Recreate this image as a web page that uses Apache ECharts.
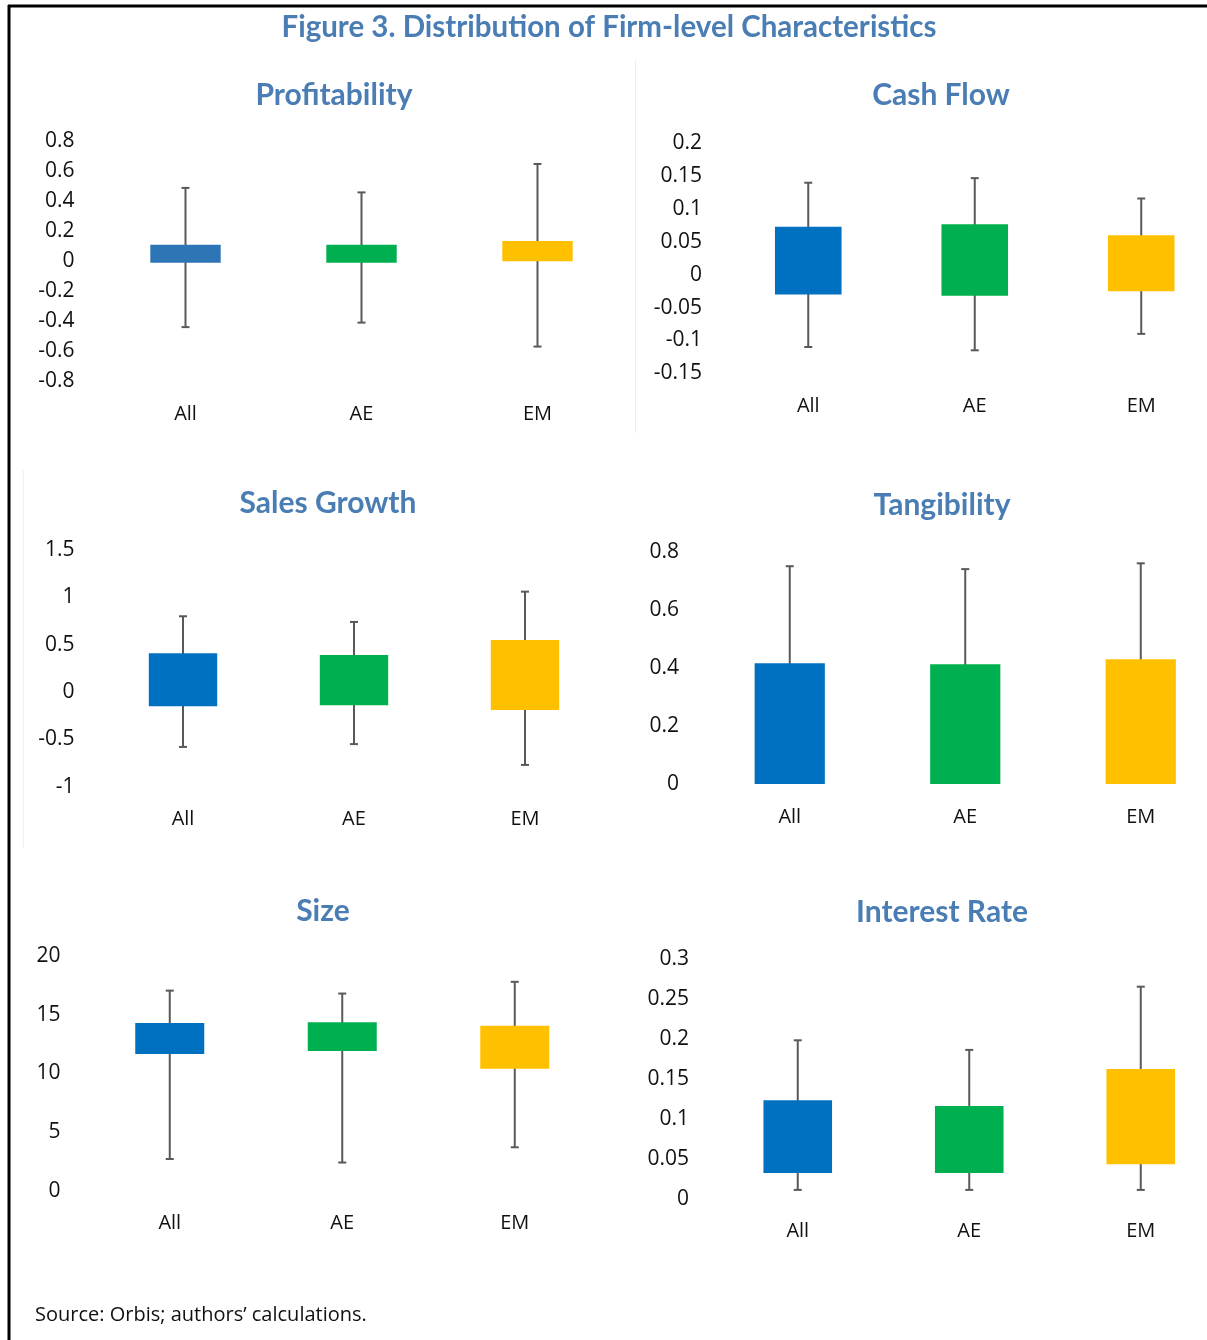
<!DOCTYPE html>
<html>
<head>
<meta charset="utf-8">
<script src="https://cdn.jsdelivr.net/npm/echarts@6/dist/echarts.min.js"></script>
<style>
  html, body { margin: 0; padding: 0; background: #ffffff; }
  #chart { width: 1207px; height: 1340px; }
</style>
</head>
<body>
<div id="chart"></div>
<script>
// Groups shown in every panel
const categories = ['All', 'AE', 'EM'];

// Profitability: whisker low, box bottom, box top, whisker high
const profitLow  = [-0.44, -0.41, -0.57];
const profitQ1   = [-0.01, -0.01, 0.0];
const profitQ3   = [0.11, 0.11, 0.135];
const profitHigh = [0.49, 0.46, 0.65];

// Cash Flow
const cashLow  = [-0.11, -0.115, -0.09];
const cashQ1   = [-0.03, -0.032, -0.025];
const cashQ3   = [0.073, 0.077, 0.06];
const cashHigh = [0.14, 0.147, 0.116];

// Sales Growth
const salesLow  = [-0.58, -0.55, -0.77];
const salesQ1   = [-0.15, -0.14, -0.19];
const salesQ3   = [0.41, 0.39, 0.55];
const salesHigh = [0.8, 0.74, 1.06];

// Tangibility
const tangLow  = [0, 0, 0];
const tangQ1   = [0, 0, 0];
const tangQ3   = [0.416, 0.412, 0.43];
const tangHigh = [0.75, 0.74, 0.76];

// Size
const sizeLow  = [2.7, 2.4, 3.7];
const sizeQ1   = [11.65, 11.9, 10.4];
const sizeQ3   = [14.3, 14.35, 14.05];
const sizeHigh = [17.05, 16.8, 17.8];

// Interest Rate
const rateLow  = [0.011, 0.011, 0.011];
const rateQ1   = [0.032, 0.032, 0.043];
const rateQ3   = [0.123, 0.116, 0.162];
const rateHigh = [0.198, 0.186, 0.265];

// Axis ranges: [min, max, interval]
const profitAxis = [-0.8, 0.8, 0.2];
const cashAxis   = [-0.15, 0.2, 0.05];
const salesAxis  = [-1, 1.5, 0.5];
const tangAxis   = [0, 0.8, 0.2];
const sizeAxis   = [0, 20, 5];
const rateAxis   = [0, 0.3, 0.05];

const PAGE_W = 1207;
const TITLE_BLUE = '#4a7db3';
const WHISKER = '#595959';
const LABEL_COLOR = '#111111';
const LABEL_FONT = '"Open Sans", "Noto Sans", sans-serif';
const HEAD_FONT = 'Lato, "Noto Sans", sans-serif';

// Plot frames: left edge, spacing between groups, top, height
const panels = [
  { title: 'Profitability', low: profitLow, q1: profitQ1, q3: profitQ3, high: profitHigh, axis: profitAxis,
    colors: ['#2e75b6', '#00b050', '#ffc000'],
    frame: { left: 97.5, step: 176, top: 141.5, height: 239.5 }, titlePos: [334, 95] },
  { title: 'Cash Flow', low: cashLow, q1: cashQ1, q3: cashQ3, high: cashHigh, axis: cashAxis,
    colors: ['#0070c0', '#00b050', '#ffc000'],
    frame: { left: 725, step: 166.5, top: 143.3, height: 230 }, titlePos: [941, 95] },
  { title: 'Sales Growth', low: salesLow, q1: salesQ1, q3: salesQ3, high: salesHigh, axis: salesAxis,
    colors: ['#0070c0', '#00b050', '#ffc000'],
    frame: { left: 97.5, step: 171, top: 550, height: 236.7 }, titlePos: [328, 503] },
  { title: 'Tangibility', low: tangLow, q1: tangQ1, q3: tangQ3, high: tangHigh, axis: tangAxis,
    colors: ['#0070c0', '#00b050', '#ffc000'],
    frame: { left: 702, step: 175.5, top: 551.7, height: 232.3 }, titlePos: [942, 505] },
  { title: 'Size', low: sizeLow, q1: sizeQ1, q3: sizeQ3, high: sizeHigh, axis: sizeAxis,
    colors: ['#0070c0', '#00b050', '#ffc000'],
    frame: { left: 83.5, step: 172.5, top: 956, height: 234.7 }, titlePos: [323, 911] },
  { title: 'Interest Rate', low: rateLow, q1: rateQ1, q3: rateQ3, high: rateHigh, axis: rateAxis,
    colors: ['#0070c0', '#00b050', '#ffc000'],
    frame: { left: 712, step: 171.5, top: 958.7, height: 240 }, titlePos: [942, 912] }
];

function fmt(v) {
  return String(+Number(v).toFixed(3));
}

// Whisker line with caps, box on top, group name below the plot
function makeRenderer(colors, yMin) {
  return function (params, api) {
    const idx = api.value(0);
    const lowPt = api.coord([idx, api.value(1)]);
    const q1Pt = api.coord([idx, api.value(2)]);
    const q3Pt = api.coord([idx, api.value(3)]);
    const highPt = api.coord([idx, api.value(4)]);
    const basePt = api.coord([idx, yMin]);
    const step = api.size([1, 0])[0];
    const boxW = step * 0.4;
    const capW = 8;
    const x = lowPt[0];
    const lineStyle = { stroke: WHISKER, lineWidth: 2 };
    const children = [
      { type: 'line', shape: { x1: x, y1: lowPt[1], x2: x, y2: highPt[1] }, style: lineStyle },
      { type: 'line', shape: { x1: x - capW / 2, y1: highPt[1], x2: x + capW / 2, y2: highPt[1] }, style: lineStyle }
    ];
    if (api.value(1) < api.value(2)) {
      children.push({ type: 'line', shape: { x1: x - capW / 2, y1: lowPt[1], x2: x + capW / 2, y2: lowPt[1] }, style: lineStyle });
    }
    children.push({ type: 'rect', shape: { x: x - boxW / 2, y: q3Pt[1], width: boxW, height: q1Pt[1] - q3Pt[1] },
      style: { fill: colors[idx] } });
    children.push({ type: 'text', x: x, y: basePt[1] + 33,
      style: { text: categories[idx], fill: LABEL_COLOR, font: '20px ' + LABEL_FONT,
               textAlign: 'center', textVerticalAlign: 'middle' } });
    return { type: 'group', children: children };
  };
}

const grids = [], xAxes = [], yAxes = [], series = [], texts = [];

panels.forEach(function (p, i) {
  const f = p.frame;
  const width = Math.min(3 * f.step, PAGE_W - f.left);
  grids.push({ left: f.left, top: f.top, width: width, height: f.height, containLabel: false });
  // group positions are 0, 1, 2; each occupies one step of width
  xAxes.push({
    type: 'value', gridIndex: i, min: -0.5, max: -0.5 + width / f.step,
    show: false, splitLine: { show: false }
  });
  yAxes.push({
    type: 'value', gridIndex: i, min: p.axis[0], max: p.axis[1], interval: p.axis[2],
    axisLine: { show: false }, axisTick: { show: false }, splitLine: { show: false },
    axisLabel: { margin: 23, fontSize: 21, color: LABEL_COLOR, fontFamily: LABEL_FONT, formatter: fmt }
  });
  series.push({
    type: 'custom', xAxisIndex: i, yAxisIndex: i, clip: false,
    renderItem: makeRenderer(p.colors, p.axis[0]),
    encode: { x: 0, y: [1, 2, 3, 4] },
    data: categories.map(function (c, k) { return [k, p.low[k], p.q1[k], p.q3[k], p.high[k]]; })
  });
  texts.push({
    type: 'text', x: p.titlePos[0], y: p.titlePos[1],
    style: { text: p.title, fill: TITLE_BLUE, font: 'bold 30px ' + HEAD_FONT,
             textAlign: 'center', textVerticalAlign: 'middle' }
  });
});

const graphics = [
  // outer frame (left and top edges)
  { type: 'line', shape: { x1: 9, y1: 5, x2: 9, y2: 1340 }, style: { stroke: '#000', lineWidth: 3 } },
  { type: 'line', shape: { x1: 8, y1: 6, x2: 1207, y2: 6 }, style: { stroke: '#000', lineWidth: 3 } },
  // faint chart-area edges
  { type: 'line', shape: { x1: 635.5, y1: 60, x2: 635.5, y2: 433 }, style: { stroke: '#eeeeee', lineWidth: 1 } },
  { type: 'line', shape: { x1: 23.5, y1: 470, x2: 23.5, y2: 848 }, style: { stroke: '#f0f0f0', lineWidth: 1 } },
  { type: 'text', x: 609, y: 27,
    style: { text: 'Figure 3. Distribution of Firm-level Characteristics', fill: TITLE_BLUE,
             font: 'bold 29.5px ' + HEAD_FONT, textAlign: 'center', textVerticalAlign: 'middle' } },
  { type: 'text', x: 35, y: 1315,
    style: { text: 'Source: Orbis; authors\u2019 calculations.', fill: LABEL_COLOR,
             font: '20px ' + LABEL_FONT, textAlign: 'left', textVerticalAlign: 'middle' } }
].concat(texts);

const chart = echarts.init(document.getElementById('chart'), null, { renderer: 'canvas' });
chart.setOption({
  backgroundColor: '#ffffff',
  animation: false,
  grid: grids,
  xAxis: xAxes,
  yAxis: yAxes,
  series: series,
  graphic: graphics
});
</script>
</body>
</html>
